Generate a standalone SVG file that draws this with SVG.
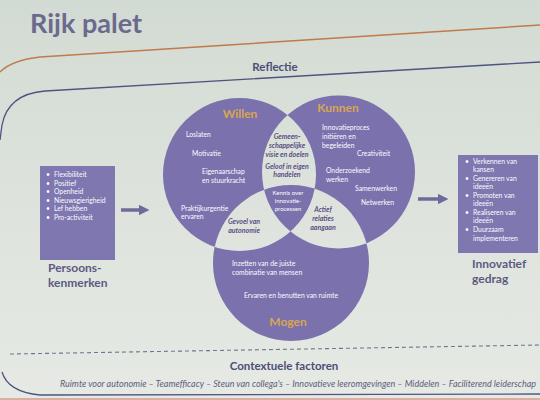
<svg xmlns="http://www.w3.org/2000/svg" width="540" height="400" viewBox="0 0 540 400">
<defs>
<linearGradient id="bg" x1="0" y1="0" x2="0" y2="1">
<stop offset="0" stop-color="#d2dbd3"/>
<stop offset="0.5" stop-color="#dde3dc"/>
<stop offset="1" stop-color="#e6e9e4"/>
</linearGradient>
<marker id="ah" viewBox="0 0 10 10" refX="2" refY="5" markerWidth="3" markerHeight="3" orient="auto">
<path d="M0,0 L10,5 L0,10 z" fill="#6f6a9a"/>
</marker>
<style>
text{font-family:Lato,"Open Sans","Liberation Sans",sans-serif}
.w{fill:#fbfbff;font-size:6.8px}
.wc{fill:#fbfbff;font-size:6px;text-anchor:middle}
.lens{fill:#5b4f85;font-size:7px;font-style:italic;text-anchor:middle;font-weight:bold}
.hd{fill:#d9a552;font-size:12px;font-weight:bold;text-anchor:middle}
.lbl{fill:#5c5a82;font-size:12px;font-weight:bold}
.sec{fill:#4b4f78;font-size:11.5px;font-weight:bold;text-anchor:middle}
.frame{fill:none;stroke:#4d5580;stroke-width:1.3}
.arr{stroke:#6f6a9a;stroke-width:3.5;fill:none}
.box{fill:#7e77b0}
</style>
</defs>
<rect width="540" height="400" fill="url(#bg)"/>
<text x="30" y="33" font-size="27" font-weight="bold" fill="#6b6a8c">Rijk palet</text>
<path d="M0,72 Q12,60 40,57 L540,25" fill="none" stroke="#c07a4c" stroke-width="1.5"/>
<path class="frame" d="M540,62 L45,91 Q8,94 2,125 L0,140"/>
<path class="frame" d="M2,372 Q8,392 40,395 L540,394"/>
<path d="M0,399 L540,399" stroke="#d9b0a0" stroke-width="2"/>
<text class="sec" x="275" y="71">Reflectie</text>
<path d="M10,354 L540,345" stroke="#6e7690" stroke-width="1.1" stroke-dasharray="4,3" fill="none"/>
<text class="sec" x="284" y="370">Contextuele factoren</text>
<text x="60" y="387" font-size="8.8" font-style="italic" fill="#5a5f80" textLength="476" lengthAdjust="spacingAndGlyphs">Ruimte voor autonomie – Teamefficacy – Steun van collega's – Innovatieve leeromgevingen – Middelen – Faciliterend leiderschap</text>

<g id="venn">
<path fill="#7b72ad" fill-rule="evenodd" d="M163,174.5 a76.5,76.5 0 1,0 153,0 a76.5,76.5 0 1,0 -153,0 Z M262,172 a76.5,76.5 0 1,0 153,0 a76.5,76.5 0 1,0 -153,0 Z M213,263 a78,78 0 1,0 156,0 a78,78 0 1,0 -156,0 Z"/>
</g>

<g id="willen">
<text class="hd" x="240" y="118">Willen</text>
<text class="w" x="186" y="137">Loslaten</text>
<text class="w" x="192" y="156">Motivatie</text>
<text class="w" x="202" y="174">Eigenaarschap</text>
<text class="w" x="202" y="183">en stuurkracht</text>
<text class="w" x="181" y="211">Praktijkurgentie</text>
<text class="w" x="181" y="219">ervaren</text>
</g>
<g id="kunnen">
<text class="hd" x="338" y="112">Kunnen</text>
<text class="w" x="322" y="130">Innovatieproces</text>
<text class="w" x="322" y="139">initiëren en</text>
<text class="w" x="322" y="148">begeleiden</text>
<text class="w" x="357" y="156">Creativiteit</text>
<text class="w" x="326" y="173">Onderzoekend</text>
<text class="w" x="326" y="182">werken</text>
<text class="w" x="355" y="191">Samenwerken</text>
<text class="w" x="361" y="205">Netwerken</text>
</g>
<g id="mogen">
<text class="hd" x="288" y="326">Mogen</text>
<text class="w" x="232" y="266">Inzetten van de juiste</text>
<text class="w" x="232" y="275">combinatie van mensen</text>
<text class="w" x="244" y="298">Ervaren en benutten van ruimte</text>
</g>
<g id="willen-kunnen">
<text class="lens" x="287" y="139">Gemeen-</text>
<text class="lens" x="287" y="148">schappelijke</text>
<text class="lens" x="287" y="157">visie en doelen</text>
<text class="lens" x="287" y="169">Geloof in eigen</text>
<text class="lens" x="287" y="177">handelen</text>
</g>
<g id="centrum">
<text class="wc" x="288" y="195">Kennis over</text>
<text class="wc" x="288" y="203">innovatie-</text>
<text class="wc" x="288" y="211">processen</text>
</g>
<g id="willen-mogen">
<text class="lens" x="244" y="224">Gevoel van</text>
<text class="lens" x="244" y="233">autonomie</text>
</g>
<g id="kunnen-mogen">
<text class="lens" x="323" y="212">Actief</text>
<text class="lens" x="323" y="221">relaties</text>
<text class="lens" x="323" y="230">aangaan</text>
</g>

<g id="persoonskenmerken">
<rect class="box" x="40" y="166" width="75" height="94"/>
<text class="w" x="46" y="177">•</text><text class="w" x="54" y="177">Flexibiliteit</text>
<text class="w" x="46" y="186">•</text><text class="w" x="54" y="186">Positief</text>
<text class="w" x="46" y="194">•</text><text class="w" x="54" y="194">Openheid</text>
<text class="w" x="46" y="203">•</text><text class="w" x="54" y="203">Nieuwsgierigheid</text>
<text class="w" x="46" y="211">•</text><text class="w" x="54" y="211">Lef hebben</text>
<text class="w" x="46" y="220">•</text><text class="w" x="54" y="220">Pro-activiteit</text>
<text class="lbl" x="48" y="272">Persoons-</text>
<text class="lbl" x="48" y="287">kenmerken</text>
</g>
<g id="innovatief">
<rect class="box" x="458" y="155" width="80" height="98"/>
<text class="w" x="465" y="164">•</text><text class="w" x="473" y="164">Verkennen van</text>
<text class="w" x="473" y="172">kansen</text>
<text class="w" x="465" y="181">•</text><text class="w" x="473" y="181">Genereren van</text>
<text class="w" x="473" y="189">ideeën</text>
<text class="w" x="465" y="198">•</text><text class="w" x="473" y="198">Promoten van</text>
<text class="w" x="473" y="206">ideeën</text>
<text class="w" x="465" y="215">•</text><text class="w" x="473" y="215">Realiseren van</text>
<text class="w" x="473" y="223">ideeën</text>
<text class="w" x="465" y="232">•</text><text class="w" x="473" y="232">Duurzaam</text>
<text class="w" x="473" y="241">implementeren</text>
<text class="lbl" x="472" y="268">Innovatief</text>
<text class="lbl" x="472" y="283">gedrag</text>
</g>
<g id="connectors">
<path class="arr" d="M121,210 L141,210" marker-end="url(#ah)"/>
<path class="arr" d="M418,199 L440,199" marker-end="url(#ah)"/>
</g>
</svg>
